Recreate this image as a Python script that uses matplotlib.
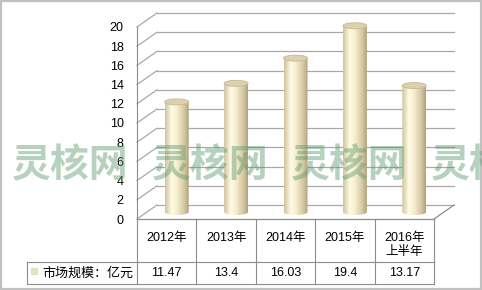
import numpy as np
import matplotlib
matplotlib.use('Agg')
import matplotlib.pyplot as plt
from matplotlib.patches import Ellipse, Rectangle, PathPatch
from matplotlib.path import Path
from matplotlib.lines import Line2D
from matplotlib.transforms import blended_transform_factory
from matplotlib.colors import LinearSegmentedColormap

# ---------------- data ----------------
categories = ['2012年', '2013年', '2014年', '2015年', '2016年\n上半年']
values = [11.47, 13.4, 16.03, 19.4, 13.17]
value_labels = ['11.47', '13.4', '16.03', '19.4', '13.17']
series_name = '市场规模：亿元'
yticks = list(range(0, 21, 2))
watermark = '灵核网'

# ---------------- figure ----------------
W, H = 482, 290
DPI = 100
plt.rcParams['font.family'] = ['Liberation Sans', 'Noto Sans CJK SC']
fig = plt.figure(figsize=(W / DPI, H / DPI), dpi=DPI)
fig.patch.set_facecolor('white')

# front plane of the 3D plot (pixels from top-left)
L, R, T, B = 137, 434, 27, 219
ax = fig.add_axes([L / W, 1 - B / H, (R - L) / W, (B - T) / H])
ax.set_xlim(-0.5, len(categories) - 0.5)
ax.set_ylim(0, 20)
ax.patch.set_visible(False)
for s in ['top', 'right', 'bottom']:
    ax.spines[s].set_visible(False)
ax.spines['left'].set_color('#8c8c8c')
ax.spines['left'].set_linewidth(0.8)
ax.set_xticks([])
ax.set_yticks(yticks)
ax.set_yticklabels([str(v) for v in yticks], fontsize=9)
ax.tick_params(axis='y', length=0, pad=9.5)

ppx = (R - L) / len(categories)
ppy = (B - T) / 20.0
DX = 20 / ppx
DY = 14 / ppy
x0, x1 = -0.5, len(categories) - 0.5

grid_c = '#a8a8a8'
for v in yticks:
    ax.plot([x0 + DX, x1 + DX], [v + DY, v + DY], color=grid_c, lw=0.9,
            clip_on=False, zorder=1)
    ax.plot([x0, x0 + DX], [v, v + DY], color=grid_c, lw=0.9,
            clip_on=False, zorder=1)
# floor edges
ax.plot([x1, x1 + DX], [0, DY], color='#8c8c8c', lw=0.9, clip_on=False, zorder=1)
ax.plot([x0, x1], [0, 0], color='#8c8c8c', lw=0.9, clip_on=False, zorder=1)

# ---------------- cylinders ----------------
cmap = LinearSegmentedColormap.from_list(
    'cyl', [(0.0, '#d0c39e'), (0.28, '#fffbe4'), (0.5, '#f6eecf'),
            (0.8, '#d6c9a4'), (1.0, '#b0a178')])
grad = np.linspace(0, 1, 128)[None, :]
bw = 24 / ppx
eh = 6 / ppy
for i, v in enumerate(values):
    cx = i + DX / 2
    yb = DY / 2
    yt = v + DY / 2
    th = np.linspace(0, np.pi, 40)
    arc = list(zip(cx + bw / 2 * np.cos(th), yb - eh / 2 * np.sin(th)))
    verts = [(cx - bw / 2, yt), (cx + bw / 2, yt)] + arc + [(cx - bw / 2, yt)]
    codes = [Path.MOVETO] + [Path.LINETO] * (len(verts) - 2) + [Path.CLOSEPOLY]
    clip = PathPatch(Path(verts, codes), transform=ax.transData)
    im = ax.imshow(grad, extent=[cx - bw / 2, cx + bw / 2, yb - eh / 2, yt],
                   aspect='auto', cmap=cmap, interpolation='bilinear', zorder=3)
    im.set_clip_path(clip)
    im.set_clip_box(None)
    top = Ellipse((cx, yt), bw, eh, facecolor='#dcd1ae', edgecolor='#c6b890',
                  lw=0.6, clip_on=False, zorder=4)
    ax.add_patch(top)
ax.set_xlim(x0, x1)
ax.set_ylim(0, 20)

# ---------------- data table ----------------
def fy(p):
    return 1 - p / H

def fx(p):
    return p / W

bt = blended_transform_factory(ax.transData, fig.transFigure)
tab_c = '#8c8c8c'
row1_top, row1_bot, row2_bot = 219, 262, 284
for k in range(len(categories) + 1):
    xk = x0 + k
    fig.add_artist(Line2D([xk, xk], [fy(row1_top), fy(row2_bot)], transform=bt,
                          color=tab_c, lw=0.8))
for yy in (row1_bot, row2_bot):
    fig.add_artist(Line2D([x0, x1], [fy(yy), fy(yy)], transform=bt,
                          color=tab_c, lw=0.8))
    fig.add_artist(Line2D([fx(27), fx(L)], [fy(yy), fy(yy)],
                          transform=fig.transFigure, color=tab_c, lw=0.8))
fig.add_artist(Line2D([fx(27), fx(27)], [fy(row1_bot), fy(row2_bot)],
                      transform=fig.transFigure, color=tab_c, lw=0.8))

for i, c in enumerate(categories):
    ax.text(i, fy(231.5), c, transform=bt, ha='center', va='top',
            fontsize=9, linespacing=1.3, clip_on=False)
    ax.text(i, fy(273.5), value_labels[i], transform=bt, ha='center',
            va='center', fontsize=9, clip_on=False)

fig.add_artist(Rectangle((fx(30.5), fy(273.5)), 6 / W, 6 / H,
                         transform=fig.transFigure, facecolor='#ebe2c2',
                         edgecolor='#d9cfae', lw=0.5))
fig.text(fx(42), fy(273.5), series_name, ha='left', va='center', fontsize=9.4)

# ---------------- watermark ----------------
for xs in (12, 152, 291, 431):
    fig.text(fx(xs), fy(166), watermark, ha='left', va='center', fontsize=28,
             fontweight='bold', family=['Noto Sans CJK SC'], color='#5f9a70',
             alpha=0.45, zorder=10)

# ---------------- outer border ----------------
fig.add_artist(Rectangle((fx(1), fy(289)), (W - 2) / W, (H - 2) / H,
                         transform=fig.transFigure, fill=False,
                         edgecolor='#c0c0c0', lw=1.6))

fig.savefig('out.png', dpi=DPI)
